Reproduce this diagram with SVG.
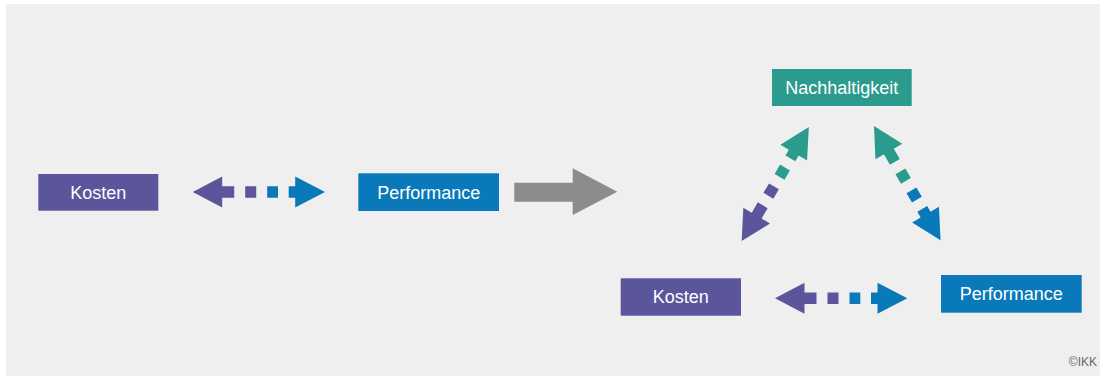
<svg xmlns="http://www.w3.org/2000/svg" width="1105" height="378" viewBox="0 0 1105 378">
  <style>
    .label { font-family: "Liberation Sans", Arial, sans-serif; font-size: 18px; fill: #ffffff; text-anchor: middle; }
    .purple { fill: #5b559c; }
    .blue { fill: #0a79ba; }
    .teal { fill: #2b9b8e; }
    .grey { fill: #8c8c8c; }
    .credit { font-family: "Liberation Sans", Arial, sans-serif; font-size: 12px; fill: #666666; text-anchor: end; }
  </style>
  <defs>
    <!-- dashed double arrow, drawn along +x from its left tip at (0,0) -->
    <path id="halfA" d="M0,0 L29.5,-15.5 L29.5,-5.7 L41.5,-5.7 L41.5,5.7 L29.5,5.7 L29.5,15.5 Z M52.5,-5.7 h11 v11.4 h-11 Z"/>
    <path id="halfB" d="M74.5,-5.7 h10.8 v11.4 h-10.8 Z M96,-5.7 h6.5 v-9.8 L132.3,0 L102.5,15.5 v-9.8 h-6.5 Z"/>
  </defs>

  <rect x="0" y="0" width="1105" height="378" fill="#ffffff"/>
  <rect x="6" y="4" width="1094" height="372" fill="#efefef"/>

  <g id="connectors">
    <!-- left pair -->
    <g transform="translate(192.7,192)">
      <use href="#halfA" class="purple"/>
      <use href="#halfB" class="blue"/>
    </g>
    <!-- transition arrow -->
    <path class="grey" d="M514.3,182.7 H572.7 V168.3 L617.3,191.7 L572.7,215 V201.7 H514.3 Z"/>
    <!-- triangle: Kosten - Nachhaltigkeit -->
    <g transform="translate(741.7,241) rotate(-59.5)">
      <use href="#halfA" class="purple"/>
      <use href="#halfB" class="teal"/>
    </g>
    <!-- triangle: Nachhaltigkeit - Performance -->
    <g transform="translate(874,126) rotate(59.8)">
      <use href="#halfA" class="teal"/>
      <use href="#halfB" class="blue"/>
    </g>
    <!-- triangle: Kosten - Performance -->
    <g transform="translate(775,298.3)">
      <use href="#halfA" class="purple"/>
      <use href="#halfB" class="blue"/>
    </g>
  </g>

  <g id="kosten-left">
    <rect class="purple" x="38.3" y="174" width="120" height="36.7"/>
    <text class="label" x="98.3" y="198.7">Kosten</text>
  </g>
  <g id="performance-left">
    <rect class="blue" x="358.3" y="173.3" width="140.7" height="37.7"/>
    <text class="label" x="428.7" y="198.6">Performance</text>
  </g>
  <g id="nachhaltigkeit">
    <rect class="teal" x="772" y="69" width="139.7" height="37"/>
    <text class="label" x="841.8" y="93.9">Nachhaltigkeit</text>
  </g>
  <g id="kosten-right">
    <rect class="purple" x="620.7" y="278.3" width="120.3" height="37.4"/>
    <text class="label" x="680.8" y="303.4">Kosten</text>
  </g>
  <g id="performance-right">
    <rect class="blue" x="941" y="275" width="140.7" height="37.7"/>
    <text class="label" x="1011.3" y="300.3">Performance</text>
  </g>

  <text class="credit" x="1097" y="366">©IKK</text>
</svg>
